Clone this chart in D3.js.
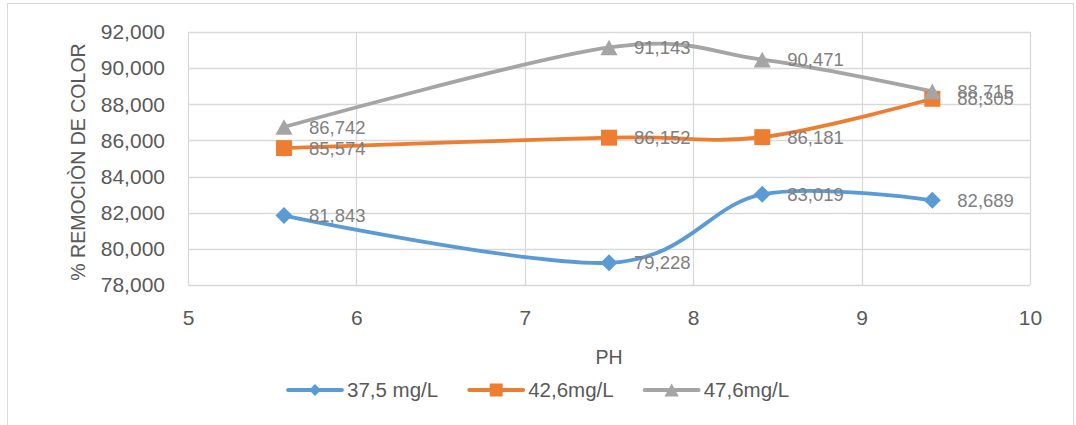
<!DOCTYPE html>
<html>
<head>
<meta charset="utf-8">
<script src="https://cdn.jsdelivr.net/npm/d3@7"></script>
<style>
  html, body { margin: 0; padding: 0; background: #fff; }
  svg { display: block; font-family: "Liberation Sans", Arial, sans-serif; }
</style>
</head>
<body>
<svg id="chart" width="1076" height="425"></svg>
<script>
// ---- data ----
const ph = [5.57, 7.5, 8.41, 9.42];
const s375 = [81.843, 79.228, 83.019, 82.689];
const s426 = [85.574, 86.152, 86.181, 88.305];
const s476 = [86.742, 91.143, 90.471, 88.715];
const seriesNames = ["37,5 mg/L", "42,6mg/L", "47,6mg/L"];
const xTicks = [5, 6, 7, 8, 9, 10];
const yTicks = [78, 80, 82, 84, 86, 88, 90, 92];
const xTitle = "PH";
const yTitle = "% REMOCIÒN DE COLOR";

// ---- styles ----
const colors = ["#5B9BD5", "#ED7D31", "#A5A5A5"];
const markers = ["diamond", "square", "triangle"];
const series = [s375, s426, s476].map((vals, i) => ({
  name: seriesNames[i], color: colors[i], marker: markers[i],
  points: vals.map((v, j) => ({ x: ph[j], y: v }))
}));

const locale = d3.formatLocale({ decimal: ",", thousands: ".", grouping: [3], currency: ["", ""] });
const fmt = locale.format(".3f");
const fmtX = d3.format("d");

const svg = d3.select("#chart");
const x = d3.scaleLinear().domain([5, 10]).range([188, 1030]);
const y = d3.scaleLinear().domain([78, 92]).range([285, 32]);

// outer chart border
svg.append("rect").attr("x", 7.5).attr("y", 3.5).attr("width", 1066).attr("height", 440)
  .attr("fill", "none").attr("stroke", "#d9d9d9").attr("stroke-width", 1);

// gridlines
const grid = svg.append("g");
grid.selectAll(".hg").data(yTicks).join("line")
  .attr("x1", x(5)).attr("x2", x(10))
  .attr("y1", d => Math.round(y(d)) + 0.5).attr("y2", d => Math.round(y(d)) + 0.5)
  .attr("stroke", "#d9d9d9").attr("stroke-width", 1.3);
grid.selectAll(".vg").data(xTicks).join("line")
  .attr("y1", y(92)).attr("y2", y(78))
  .attr("x1", d => Math.round(x(d)) + 0.5).attr("x2", d => Math.round(x(d)) + 0.5)
  .attr("stroke", "#d9d9d9").attr("stroke-width", 1.3);

// axes
const yAxis = svg.append("g").attr("transform", `translate(${x(5)},0)`)
  .call(d3.axisLeft(y).tickValues(yTicks).tickFormat(fmt).tickSize(0).tickPadding(23));
yAxis.select(".domain").remove();
yAxis.selectAll("text").attr("font-size", 21).attr("fill", "#595959")
  .attr("font-family", "'Liberation Sans', Arial, sans-serif");

const xAxis = svg.append("g").attr("transform", `translate(0,${y(78)})`)
  .call(d3.axisBottom(x).tickValues(xTicks).tickFormat(fmtX).tickSize(0).tickPadding(25));
xAxis.select(".domain").remove();
xAxis.selectAll("text").attr("font-size", 21).attr("fill", "#595959")
  .attr("font-family", "'Liberation Sans', Arial, sans-serif");

// axis titles
svg.append("text").attr("transform", "translate(85,162) rotate(-90)")
  .attr("text-anchor", "middle").attr("font-size", 19.5).attr("fill", "#595959").text(yTitle);
svg.append("text").attr("x", 609).attr("y", 364)
  .attr("text-anchor", "middle").attr("font-size", 19.5).attr("fill", "#595959").text(xTitle);

// marker path generator
function markerPath(type, s) {
  if (type === "diamond") return `M0,${-s}L${s},0L0,${s}L${-s},0Z`;
  if (type === "square") return `M${-s},${-s}H${s}V${s}H${-s}Z`;
  return `M0,${-s}L${s * 1.1},${s}L${-s * 1.1},${s}Z`;
}
const markerSize = { diamond: 8.5, square: 8, triangle: 7.8 };

// lines
const line = d3.line().x(d => x(d.x)).y(d => y(d.y)).curve(d3.curveCardinal.tension(0));
const gS = svg.append("g");
series.forEach(s => {
  gS.append("path").datum(s.points).attr("d", line)
    .attr("fill", "none").attr("stroke", s.color).attr("stroke-width", 3.8)
    .attr("stroke-linecap", "round");
});
series.forEach(s => {
  gS.selectAll(null).data(s.points).join("path")
    .attr("transform", d => `translate(${x(d.x)},${y(d.y)})`)
    .attr("d", markerPath(s.marker, markerSize[s.marker]))
    .attr("fill", s.color);
});
// data labels
series.forEach(s => {
  gS.selectAll(null).data(s.points).join("text")
    .attr("x", d => x(d.x) + 25).attr("y", d => y(d.y)).attr("dy", "0.36em")
    .attr("font-size", 18.5).attr("fill", "#808080")
    .text(d => fmt(d.y));
});

// legend
const leg = svg.append("g");
let lx = 288;
const ly = 390;
series.forEach(s => {
  leg.append("line").attr("x1", lx).attr("x2", lx + 54).attr("y1", ly).attr("y2", ly)
    .attr("stroke", s.color).attr("stroke-width", 3.8).attr("stroke-linecap", "round");
  const ms = { diamond: 6, square: 6.5, triangle: 6.5 }[s.marker];
  leg.append("path").attr("transform", `translate(${lx + 27},${ly})`)
    .attr("d", markerPath(s.marker, ms)).attr("fill", s.color);
  const t = leg.append("text").attr("x", lx + 59).attr("y", ly).attr("dy", "0.36em")
    .attr("font-size", 20.5).attr("fill", "#595959").text(s.name);
  lx = lx + 59 + t.node().getComputedTextLength() + 31;
});
</script>
</body>
</html>
